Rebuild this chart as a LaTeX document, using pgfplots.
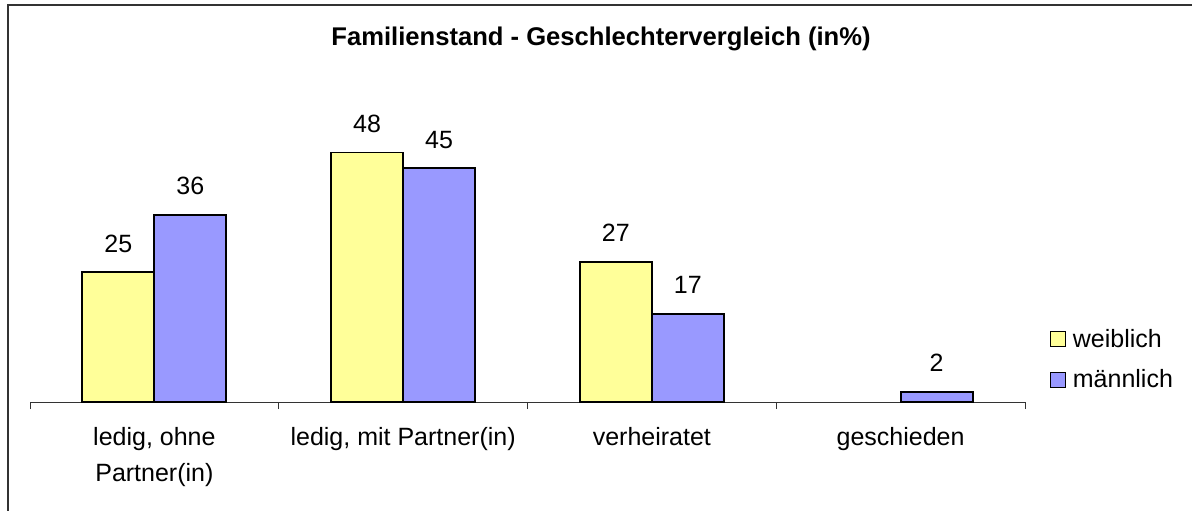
\documentclass[border=0pt]{standalone}
\usepackage{pgfplots}
\pgfplotsset{compat=1.18}
\usepackage{fontspec}
\setmainfont{Liberation Sans}
\definecolor{fem}{HTML}{FFFF99}
\definecolor{mal}{HTML}{9999FF}
\begin{document}
\begin{tikzpicture}
\useasboundingbox (0,0) rectangle (596pt,255pt);
\draw[line width=0.7pt, black!80] (4pt,-5pt) -- (4pt,252.5pt) -- (600pt,252.5pt);
\node[font=\fontsize{12.8}{15}\selectfont\bfseries, anchor=base, inner sep=0pt] at (300.5pt,232.5pt) {Familienstand - Geschlechtervergleich (in\%)};
\begin{axis}[
  at={(15pt,54pt)}, anchor=south west,
  scale only axis, width=497.5pt, height=156pt,
  ymin=0, ymax=60, xmin=-0.5, xmax=3.5,
  axis y line=none, axis x line*=bottom,
  axis line style={line width=0.5pt, black!80},
  ybar=0pt, bar width=36pt,
  xtick={0,1,2,3},
  xticklabels={{ledig, ohne\\Partner(in)},{ledig, mit Partner(in)},{verheiratet},{geschieden}},
  major tick length=0pt,
  minor xtick={-0.5,0.5,1.5,2.5,3.5},
  minor tick length=3.5pt,
  tick align=outside,
  minor tick style={line width=0.5pt, black!80},
  x tick label style={align=center, anchor=north, yshift=-9pt, font=\fontsize{12.5}{18}\selectfont},
  /pgf/number format/assume math mode=true,
  nodes near coords,
  every node near coord/.append style={font=\fontsize{12.5}{15}\selectfont, anchor=base, yshift=10pt, inner sep=0pt, black},
  clip=false,
  legend style={at={(1.025,0.256)}, anchor=north west, draw=none, fill=none,
    font=\fontsize{12.5}{15}\selectfont, row sep=3.5pt, inner sep=0pt,
    nodes={inner sep=3.2pt}},
  legend cell align=left,
  legend image code/.code={\draw[#1, line width=0.6pt] (0pt,-3.5pt) rectangle (7.5pt,4pt);},
]
\addplot[fill=fem, draw=black, line width=0.9pt] coordinates {(0,25) (1,48) (2,27)};
\addplot[fill=mal, draw=black, line width=0.9pt] coordinates {(0,36) (1,45) (2,17) (3,2)};
\legend{weiblich, männlich}
\end{axis}
\end{tikzpicture}
\end{document}
